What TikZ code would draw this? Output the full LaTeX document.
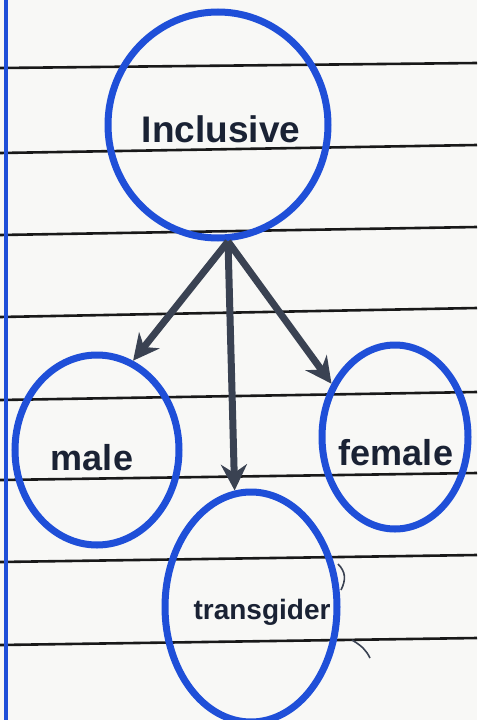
\documentclass[tikz,border=0pt]{standalone}
\usepackage{fontspec}
\setmainfont{Liberation Sans}
\usetikzlibrary{shapes.geometric,arrows.meta}
\definecolor{paper}{HTML}{F8F8F6}
\definecolor{ink}{HTML}{1F4FD8}
\definecolor{pen}{HTML}{3A4252}
\definecolor{txt}{HTML}{1A2234}
\tikzset{
  rule/.style={line width=2.6pt, black!90},
  bubble/.style={ellipse, draw=ink, line width=7pt, inner sep=0pt},
  label/.style={text=txt, inner sep=0pt},
  link/.style={draw=pen, line width=7pt, -{Stealth[length=26pt,width=26pt]}},
}
\begin{document}
\begin{tikzpicture}[x=1pt,y=-1pt]
\fill[paper] (0,0) rectangle (477,720);
\useasboundingbox (0,0) rectangle (477,720);
% ruled lines
\draw[rule] (0,68) -- (477,63);
\draw[rule] (0,153) -- (477,145);
\draw[rule] (0,235) -- (477,227);
\draw[rule] (0,317) -- (477,308);
\draw[rule] (0,400) -- (477,392);
\draw[rule] (0,480) -- (477,473);
\draw[rule] (0,562) -- (477,555);
\draw[rule] (0,645) -- (477,638);
% margin line
\draw[ink, line width=4pt] (6,0) -- (6,720);
% nodes
\node[bubble, minimum width=220pt, minimum height=226pt] (incl) at (218,125) {};
\node[label, font=\bfseries\fontsize{37}{40}\selectfont] (inclt) at (221,129) {Inclusive};
\node[bubble, minimum width=164pt, minimum height=190pt] (male) at (97,450) {};
\node[label, font=\bfseries\fontsize{36}{40}\selectfont] (malet) at (92,458) {male};
\node[bubble, minimum width=146pt, minimum height=184pt] (female) at (395,437) {};
\node[label, font=\bfseries\fontsize{36}{40}\selectfont] (femalet) at (396,453) {female};
\node[bubble, minimum width=172pt, minimum height=230pt] (trans) at (251,607) {};
\node[label, font=\bfseries\fontsize{28}{30}\selectfont] (transt) at (262,612) {transgider};
% connectors
\coordinate (src) at ([xshift=10pt]incl.south);
\draw[link] (src) -- (male.68);
\draw[link] (src) -- (trans.98);
\draw[link] (src) -- (female.140);
% stray pen marks
\draw[pen, line width=1.6pt] (338,564) .. controls (346,572) and (346,580) .. (341,590);
\draw[pen, line width=1.6pt] (352,640) .. controls (362,646) and (366,650) .. (370,658);
\end{tikzpicture}
\end{document}
